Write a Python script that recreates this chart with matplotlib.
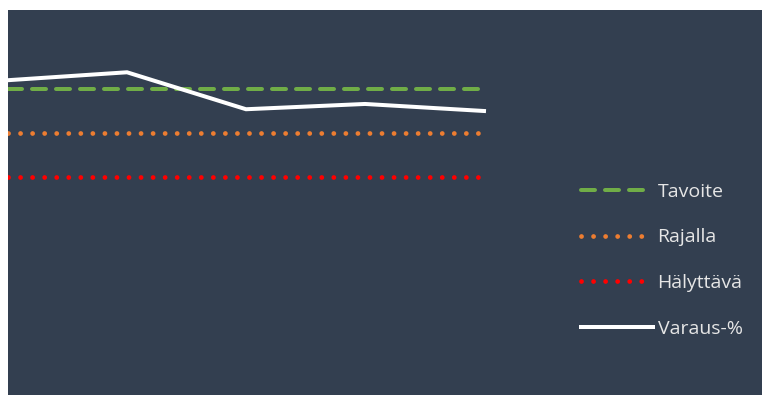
import matplotlib
matplotlib.use("Agg")
import matplotlib.pyplot as plt
import numpy as np

# data (values estimated, no axis shown in the original)
periods = ["1", "2", "3", "4", "5"]
varaus = [96.0, 96.9, 92.7, 93.3, 92.5]
tavoite = [95.0] * 5
rajalla = [90.0] * 5
halyttava = [85.0] * 5

BG = "#333F50"
plt.rcParams["font.family"] = ["Open Sans", "DejaVu Sans"]

fig = plt.figure(figsize=(7.62, 3.95), dpi=100, facecolor="white")
ax = fig.add_axes([8 / 762, 0.0, 754 / 762, 385 / 395])
ax.set_facecolor(BG)

x = np.arange(len(periods))
px = 100 / 72  # pixels per point

ax.plot(x, tavoite, color="#70AD47", lw=4 / px,
        dashes=(3.5, 2.5), dash_capstyle="round", label="Tavoite")
ax.plot(x, rajalla, color="#ED7D31", lw=4.8 / px,
        linestyle=(0, (0.01, 12 / 4.8)), dash_capstyle="round", label="Rajalla")
ax.plot(x, halyttava, color="#FF0000", lw=4.8 / px,
        linestyle=(0, (0.01, 12 / 4.8)), dash_capstyle="round", label="Hälyttävä")
ax.plot(x, varaus, color="white", lw=4 / px, solid_joinstyle="miter",
        label="Varaus-%")

ax.set_xlim(0, 754 / 119)
ax.set_ylim(95 - (395 - 89) / 8.8, 95 + (89 - 10) / 8.8)
ax.set_xticks([])
ax.set_yticks([])
for s in ax.spines.values():
    s.set_visible(False)

leg = ax.legend(loc="upper left", bbox_to_anchor=(565 / 754, 1 - 165 / 385),
                frameon=False, fontsize=14, handlelength=3.7, handletextpad=0.25,
                labelspacing=1.42, borderaxespad=0, borderpad=0.4,
                labelcolor="#E6E6E6")

fig.savefig("out.png", dpi=100, facecolor="white")
